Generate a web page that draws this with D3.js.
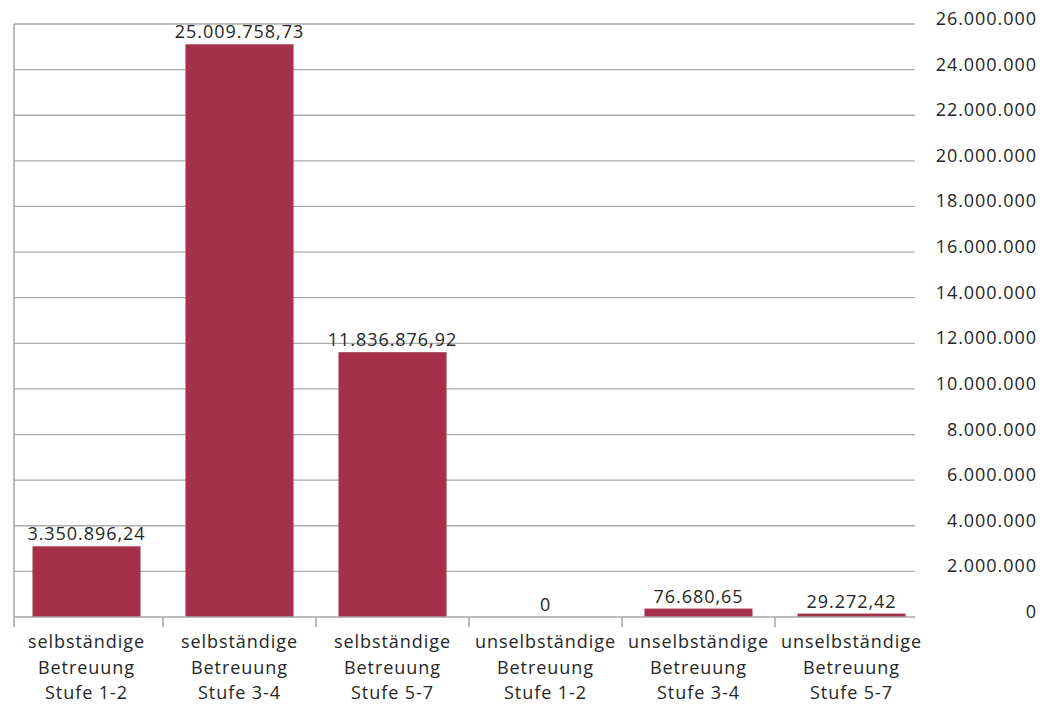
<!DOCTYPE html>
<html><head><meta charset="utf-8">
<script src="https://cdn.jsdelivr.net/npm/d3@7"></script>
<style>
html,body{margin:0;padding:0;background:#fff;}
svg text{font-family:"Open Sans","Noto Sans",sans-serif;fill:#262626;letter-spacing:0.95px;}
</style></head>
<body>
<svg id="chart" width="1056" height="705"></svg>
<script>
const categories = [
  ["selbständige","Betreuung","Stufe 1-2"],
  ["selbständige","Betreuung","Stufe 3-4"],
  ["selbständige","Betreuung","Stufe 5-7"],
  ["unselbständige","Betreuung","Stufe 1-2"],
  ["unselbständige","Betreuung","Stufe 3-4"],
  ["unselbständige","Betreuung","Stufe 5-7"]
];
const barValues = [3100000, 25110000, 11610000, 0, 370000, 150000];
const valueLabels = ["3.350.896,24","25.009.758,73","11.836.876,92","0","76.680,65","29.272,42"];
const yTicks = [0,2000000,4000000,6000000,8000000,10000000,12000000,14000000,16000000,18000000,20000000,22000000,24000000,26000000];
const yTickLabels = ["0","2.000.000","4.000.000","6.000.000","8.000.000","10.000.000","12.000.000","14.000.000","16.000.000","18.000.000","20.000.000","22.000.000","24.000.000","26.000.000"];

const svg = d3.select("#chart");
const gridLeft = 14, gridRight = 915;
const y = d3.scaleLinear().domain([0, 26000000]).range([617, 24]);
const x = d3.scaleBand().domain(d3.range(categories.length)).range([10, 928]).paddingInner(0.294).paddingOuter(0.147);

// gridlines
svg.append("g").selectAll("line").data(yTicks.slice(1)).join("line")
  .attr("x1", gridLeft).attr("x2", gridRight)
  .attr("y1", d => y(d)).attr("y2", d => y(d))
  .attr("stroke", "#acacac").attr("stroke-width", 1.3);

// y tick labels (right)
svg.append("g").selectAll("text").data(yTicks).join("text")
  .attr("x", 1037).attr("y", d => y(d) + 1)
  .attr("text-anchor", "end")
  .style("font-size", "18px")
  .text((d, i) => yTickLabels[i]);

// bars
svg.append("g").selectAll("rect").data(barValues).join("rect")
  .attr("x", (d, i) => x(i)).attr("width", x.bandwidth())
  .attr("y", d => y(d)).attr("height", d => y(0) - y(d))
  .attr("fill", "#a5304a");

// axes lines
svg.append("line").attr("x1", gridLeft).attr("x2", gridLeft).attr("y1", y(26000000)).attr("y2", 627)
  .attr("stroke", "#a6a6a6").attr("stroke-width", 1.5);
svg.append("line").attr("x1", gridLeft).attr("x2", gridRight).attr("y1", y(0)).attr("y2", y(0))
  .attr("stroke", "#a6a6a6").attr("stroke-width", 1.5);
svg.append("g").selectAll("line").data(d3.range(1, categories.length)).join("line")
  .attr("x1", i => x(i) - x.step() * x.paddingInner() / 2)
  .attr("x2", i => x(i) - x.step() * x.paddingInner() / 2)
  .attr("y1", y(0)).attr("y2", 627)
  .attr("stroke", "#a6a6a6").attr("stroke-width", 1.5);

// value labels
svg.append("g").selectAll("text").data(barValues).join("text")
  .attr("x", (d, i) => x(i) + x.bandwidth() / 2)
  .attr("y", d => y(d) - 6)
  .attr("text-anchor", "middle")
  .style("font-size", "18px")
  .text((d, i) => valueLabels[i]);

// category labels
const cat = svg.append("g").selectAll("text").data(categories).join("text")
  .attr("text-anchor", "middle")
  .style("font-size", "18px");
cat.each(function(lines, i) {
  const t = d3.select(this);
  lines.forEach((ln, j) => {
    t.append("tspan").attr("x", x(i) + x.bandwidth() / 2).attr("y", 648 + j * 25.5).text(ln);
  });
});
</script>
</body></html>
